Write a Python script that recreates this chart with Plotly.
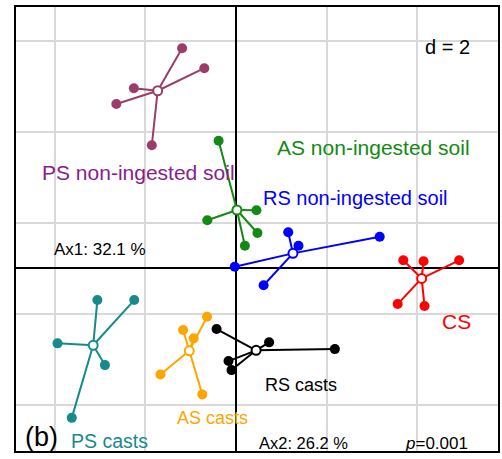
import plotly.graph_objects as go

# ---- data ----
groups = ["PS non-ingested soil", "AS non-ingested soil", "RS non-ingested soil",
          "CS", "RS casts", "AS casts", "PS casts"]

ps_soil_x = [-1.187, -0.697, -2.251, -2.637, -1.855]
ps_soil_y = [4.835, 4.396, 3.956, 3.611, 2.703]
as_soil_x = [-0.382, 0.453, -0.631, 0.475, 0.198]
as_soil_y = [2.804, 1.275, 1.055, 0.776, 0.497]
rs_soil_x = [1.154, 1.380, 3.171, -0.026, 0.611]
rs_soil_y = [0.791, 0.497, 0.692, 0.035, -0.371]
cs_x = [3.692, 4.138, 4.923, 3.567, 4.160]
cs_y = [0.176, 0.154, 0.176, -0.785, -0.829]
rs_casts_x = [0.732, 2.182, -0.426, -0.163, -0.097]
rs_casts_y = [-1.626, -1.774, -1.334, -2.037, -2.235]
as_casts_x = [-0.637, -1.165, -0.932, -1.664, -0.741]
as_casts_y = [-1.064, -1.356, -1.538, -2.330, -2.769]
ps_casts_x = [-3.055, -2.242, -3.934, -2.888, -3.620]
ps_casts_y = [-0.697, -0.697, -1.648, -2.125, -3.284]

label_x = [-2.141, 3.024, 2.637, 4.870, 1.429, -0.521, -2.785]
label_y = [2.101, 2.651, 1.552, -1.158, -2.565, -3.290, -3.80]

point_colors = ["#9B3D6B", "#138A13", "#0000FF", "#FF0000", "#000000", "#FFA500", "#178A8A"]
label_colors = ["#8B1C8B", "#138A13", "#0000FF", "#FF0000", "#000000", "#FFA500", "#178A8A"]
label_sizes = [21, 21, 20, 21, 18, 18, 19.5]

xs = [ps_soil_x, as_soil_x, rs_soil_x, cs_x, rs_casts_x, as_casts_x, ps_casts_x]
ys = [ps_soil_y, as_soil_y, rs_soil_y, cs_y, rs_casts_y, as_casts_y, ps_casts_y]

ax1_text = "Ax1: 32.1 %"
ax2_text = "Ax2: 26.2 %"
p_text = "<i>p</i>=0.001"
d_text = "d = 2"
panel_text = "(b)"

FONT = "Liberation Sans, Arial, sans-serif"

fig = go.Figure()

for g, gx, gy, pc in zip(groups, xs, ys, point_colors):
    cx = sum(gx) / len(gx)
    cy = sum(gy) / len(gy)
    lx, ly = [], []
    for x, y in zip(gx, gy):
        lx += [cx, x, None]
        ly += [cy, y, None]
    fig.add_trace(go.Scatter(x=lx, y=ly, mode="lines",
                             line=dict(color=pc, width=2), hoverinfo="skip"))
    fig.add_trace(go.Scatter(x=gx, y=gy, mode="markers",
                             marker=dict(color=pc, size=10), name=g))
    fig.add_trace(go.Scatter(x=[cx], y=[cy], mode="markers",
                             marker=dict(color="white", size=9,
                                         line=dict(color=pc, width=2)),
                             hoverinfo="skip"))

for g, x, y, c, s in zip(groups, label_x, label_y, label_colors, label_sizes):
    fig.add_annotation(x=x, y=y, text=g, showarrow=False,
                       font=dict(color=c, size=s, family=FONT))

fig.add_annotation(x=-2.987, y=0.418, text=ax1_text, showarrow=False,
                   font=dict(color="black", size=17, family=FONT))
fig.add_annotation(x=1.497, y=-3.84, text=ax2_text, showarrow=False,
                   font=dict(color="black", size=16.5, family=FONT))
fig.add_annotation(x=4.413, y=-3.84, text=p_text, showarrow=False,
                   font=dict(color="black", size=17, family=FONT))
fig.add_annotation(x=4.673, y=4.857, text=d_text, showarrow=False,
                   font=dict(color="black", size=20, family=FONT))
fig.add_annotation(x=-4.70, y=-3.71, text=panel_text, showarrow=False,
                   xanchor="left",
                   font=dict(color="black", size=27, family=FONT))

fig.update_layout(
    width=502, height=459,
    margin=dict(l=16, r=2, t=7, b=8),
    plot_bgcolor="white", paper_bgcolor="white",
    showlegend=False,
    xaxis=dict(range=[-4.85, 5.78], dtick=2, tick0=0, showticklabels=False,
               ticks="", showgrid=True, gridcolor="#D9D9D9", gridwidth=1.5,
               zeroline=True, zerolinecolor="black", zerolinewidth=1.5,
               showline=True, mirror=True, linecolor="black", linewidth=2),
    yaxis=dict(range=[-4.012, 5.74], dtick=2, tick0=1, showticklabels=False,
               ticks="", showgrid=True, gridcolor="#D9D9D9", gridwidth=1.5,
               zeroline=True, zerolinecolor="black", zerolinewidth=1.5,
               showline=True, mirror=True, linecolor="black", linewidth=2),
)

fig.write_html("out.html", config={"displayModeBar": False},
               post_script="document.body.style.margin='0px';document.body.style.overflow='hidden';")
